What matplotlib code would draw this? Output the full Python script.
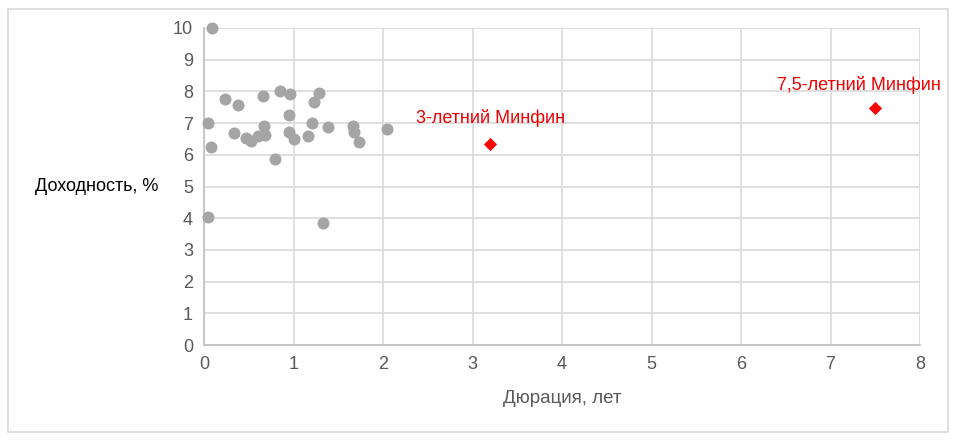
import matplotlib.pyplot as plt
from matplotlib.patches import Rectangle

plt.rcParams['font.family'] = ['Liberation Sans', 'DejaVu Sans']

# Corporate bonds: duration (years) and yield (%)
duration = [0.09, 0.23, 0.38, 0.66, 0.85, 0.96, 1.29, 1.23, 0.95, 0.05,
            0.67, 1.21, 1.39, 1.66, 2.05, 0.33, 0.47, 0.53, 0.60, 0.68,
            0.95, 1.00, 1.16, 1.68, 1.73, 0.08, 0.79, 0.05, 1.33]
yields = [10.0, 7.75, 7.56, 7.85, 8.0, 7.91, 7.95, 7.65, 7.25, 7.0,
          6.91, 7.0, 6.87, 6.92, 6.8, 6.68, 6.52, 6.45, 6.6, 6.62,
          6.72, 6.51, 6.59, 6.72, 6.39, 6.25, 5.87, 4.03, 3.84]

# Government bonds (Минфин)
gov_duration = [3.2, 7.5]
gov_yield = [6.35, 7.48]
gov_labels = ["3-летний Минфин", "7,5-летний Минфин"]

fig = plt.figure(figsize=(9.58, 4.41), dpi=100)
fig.patches.append(Rectangle((8 / 958, 9 / 441), 940 / 958, 423 / 441,
                             transform=fig.transFigure, fill=False,
                             edgecolor='#D9D9D9', linewidth=1.2))

ax = fig.add_axes([204 / 958, 96 / 441, 716 / 958, 317 / 441])
ax.scatter(duration, yields, s=75, color='#A5A5A5', zorder=3, linewidths=0,
           clip_on=False)
ax.scatter(gov_duration, gov_yield, s=45, marker='D', color='#FF0000',
           zorder=4, linewidths=0, clip_on=False)

ax.annotate(gov_labels[0], (gov_duration[0], gov_yield[0]), xytext=(0, 12),
            textcoords='offset points', ha='center', va='bottom',
            color='#F00000', fontsize=13)
ax.annotate(gov_labels[1], (gov_duration[1], gov_yield[1]), xytext=(-12, 10),
            textcoords='offset points', ha='center', va='bottom',
            color='#F00000', fontsize=13, annotation_clip=False)

ax.set_xlim(0, 8)
ax.set_ylim(0, 10)
ax.set_xticks(range(0, 9))
ax.set_yticks(range(0, 11))
ax.grid(True, color='#D9D9D9', linewidth=1.2)
ax.set_axisbelow(True)
for side in ['top', 'right']:
    ax.spines[side].set_visible(False)
for side in ['left', 'bottom']:
    ax.spines[side].set_color('#BFBFBF')
    ax.spines[side].set_linewidth(1.2)
ax.tick_params(length=0, labelsize=13, colors='#595959', pad=8)

ax.set_xlabel("Дюрация, лет", fontsize=13.5, color='#595959', labelpad=12)
fig.text(97 / 958, 1 - 187 / 441, "Доходность, %", fontsize=13,
         color='black', ha='center', va='center')

fig.savefig("out.png", dpi=100)
